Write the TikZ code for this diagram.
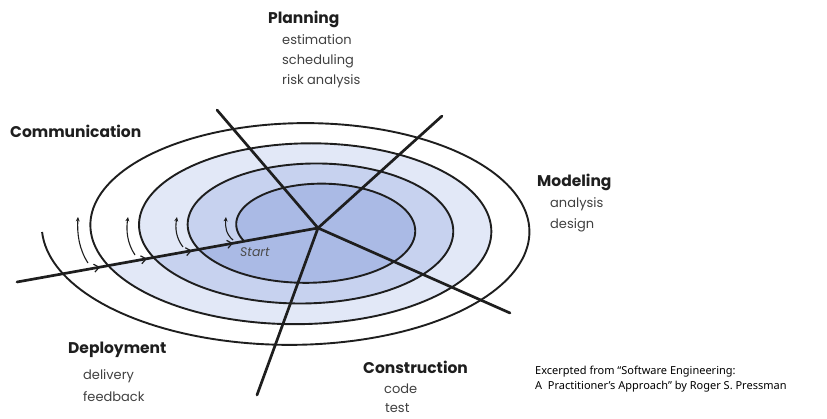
\documentclass[tikz,border=0pt]{standalone}
\usepackage{fontspec}
\setmainfont{Poppins}
\newfontfamily\notefont{Noto Sans}
\usetikzlibrary{arrows.meta,decorations.markings}
\definecolor{ringA}{RGB}{226,232,247}
\definecolor{ringB}{RGB}{199,210,239}
\definecolor{ringC}{RGB}{170,186,229}
\definecolor{ink}{RGB}{30,30,30}
\tikzset{
  spiralline/.style={draw=ink, line width=1.9pt},
  axisline/.style={draw=ink, line width=2.7pt, line cap=round},
  phase/.style={inner sep=0pt, anchor=west, font=\fontsize{15.5}{18}\selectfont\bfseries, text=ink},
  task/.style={inner sep=0pt, anchor=west, font=\fontsize{13}{15}\selectfont, text=ink!85},
  hook/.style={draw=ink, line width=1.1pt, -{Stealth[length=4.5pt,width=4pt]}},
  notetext/.style={inner sep=0pt, anchor=west, font=\notefont\fontsize{11}{13}\selectfont, text=black}
}
\begin{document}
\begin{tikzpicture}[x=1pt,y=-1pt]
\useasboundingbox (0,0) rectangle (827,418);
% shaded rings of the spiral (each closed along the start line)
\fill[ringA] plot[domain=1.943:2.943, samples=200, variable=\t]
  ({316.3-5.3*\t-(79.7+43.4*\t)*cos(360*\t)}, {228+0.25*\t-(39.2+20.45*\t)*sin(360*\t)}) -- cycle;
\fill[ringB] plot[domain=0.943:1.943, samples=200, variable=\t]
  ({316.3-5.3*\t-(79.7+43.4*\t)*cos(360*\t)}, {228+0.25*\t-(39.2+20.45*\t)*sin(360*\t)}) -- cycle;
\fill[ringC] plot[domain=-0.057:0.943, samples=200, variable=\t]
  ({316.3-5.3*\t-(79.7+43.4*\t)*cos(360*\t)}, {228+0.25*\t-(39.2+20.45*\t)*sin(360*\t)}) -- cycle;
% the spiral
\draw[spiralline] plot[domain=-0.057:4.0, samples=700, variable=\t]
  ({316.3-5.3*\t-(79.7+43.4*\t)*cos(360*\t)}, {228+0.25*\t-(39.2+20.45*\t)*sin(360*\t)});
% axes
\coordinate (C) at (318,228);
\coordinate (Pend) at (217,110);
\coordinate (Mend) at (442,116);
\coordinate (Kend) at (510,313);
\coordinate (Dend) at (257,395);
\coordinate (Send) at (17,282);
\draw[axisline] (C) -- (Pend);
\draw[axisline] (C) -- (Mend);
\draw[axisline] (C) -- (Kend);
\draw[axisline] (C) -- (Dend);
\draw[axisline, postaction={decorate}, decoration={markings,
   mark=at position 0.276 with {\arrow{Straight Barb[length=5pt,width=8pt,line width=1.2pt]}},
   mark=at position 0.432 with {\arrow{Straight Barb[length=5pt,width=8pt,line width=1.2pt]}},
   mark=at position 0.581 with {\arrow{Straight Barb[length=5pt,width=8pt,line width=1.2pt]}},
   mark=at position 0.718 with {\arrow{Straight Barb[length=5pt,width=8pt,line width=1.2pt]}}}]
   (Send) -- (C);
% small curved arrows
\coordinate (h1a) at (88,263); \coordinate (h1b) at (78,217);
\coordinate (h2a) at (135,255); \coordinate (h2b) at (128,217);
\coordinate (h3a) at (183,247); \coordinate (h3b) at (177,217);
\coordinate (h4a) at (233,240); \coordinate (h4b) at (226,217);
\draw[hook] (h1a) .. controls (79,249) and (77,234) .. (h1b);
\draw[hook] (h2a) .. controls (127,243) and (126,230) .. (h2b);
\draw[hook] (h3a) .. controls (176,238) and (175,228) .. (h3b);
\draw[hook] (h4a) .. controls (226,234) and (225,227) .. (h4b);
% labels
\node[inner sep=0pt, anchor=west, font=\fontsize{12.5}{14}\selectfont\itshape, text=ink!80] (start) at (240,252) {Start};
\node[phase] (plan) at (268,19) {Planning};
\node[task] (plan1) at (282,40) {estimation};
\node[task] (plan2) at (282,61) {scheduling};
\node[task] (plan3) at (282,81) {risk analysis};
\node[phase] (comm) at (10,131) {Communication};
\node[phase] (model) at (537,182) {Modeling};
\node[task] (model1) at (550,204) {analysis};
\node[task] (model2) at (550,225) {design};
\node[phase] (deploy) at (68,350) {Deployment};
\node[task] (deploy1) at (83,376) {delivery};
\node[task] (deploy2) at (83,397) {feedback};
\node[phase] (constr) at (363,367) {Construction};
\node[task] (constr1) at (384,389) {code};
\node[task] (constr2) at (385,408) {test};
\node[notetext] (note1) at (535,372) {Excerpted from “Software Engineering:};
\node[notetext] (note2) at (535,387) {A\ \ Practitioner’s Approach” by Roger S. Pressman};
\end{tikzpicture}
\end{document}
